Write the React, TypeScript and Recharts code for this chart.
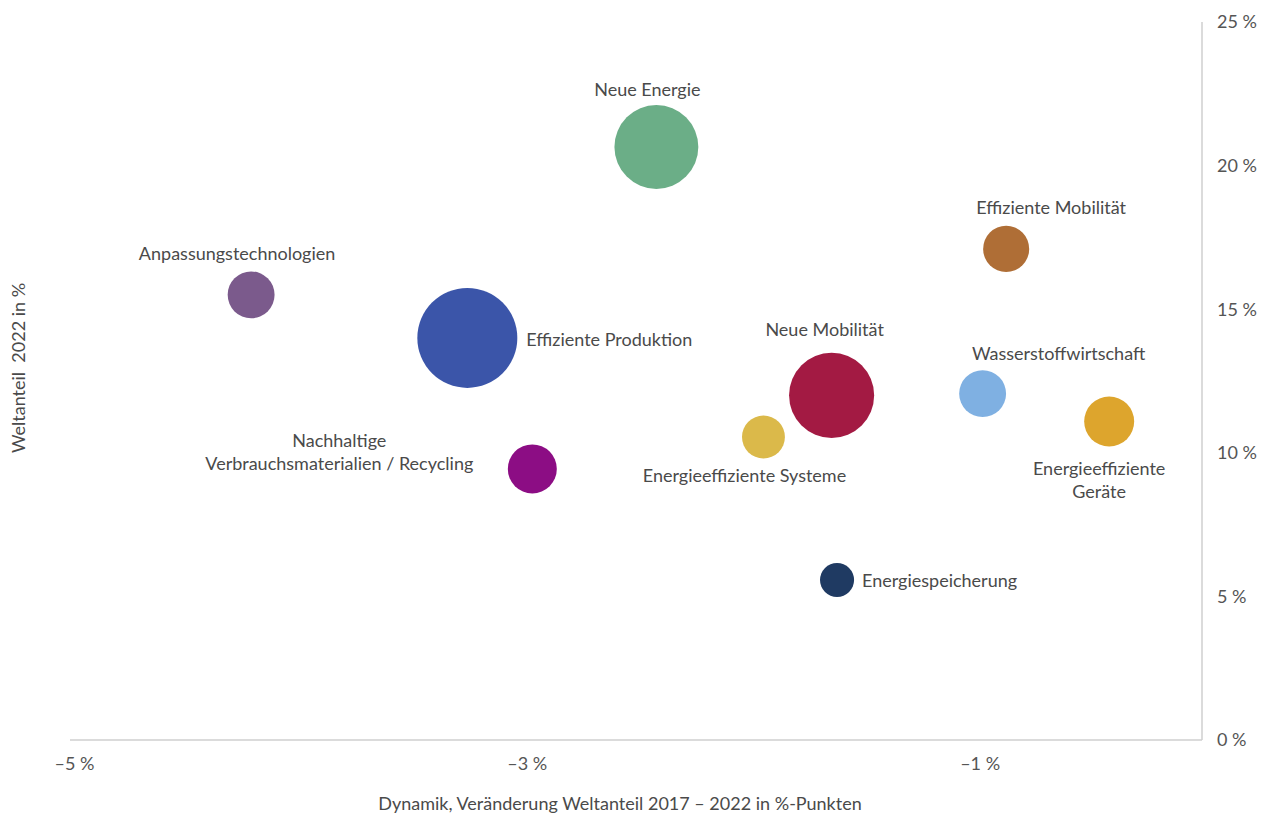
import React from "react";
import { ScatterChart, Scatter, XAxis, YAxis, ZAxis } from "recharts";

// Technologiefelder: Dynamik (x), Weltanteil 2022 (y), Marktvolumen (Blasengröße)
const fields = [
  "Neue Energie",
  "Effiziente Mobilität",
  "Anpassungstechnologien",
  "Effiziente Produktion",
  "Neue Mobilität",
  "Wasserstoffwirtschaft",
  "Energieeffiziente Geräte",
  "Energieeffiziente Systeme",
  "Nachhaltige Verbrauchsmaterialien / Recycling",
  "Energiespeicherung",
];
const dynamics = [-2.43, -0.885, -4.22, -3.265, -1.656, -0.989, -0.43, -1.957, -2.978, -1.632];
const shares = [20.65, 17.1, 15.5, 14.0, 12.0, 12.06, 11.09, 10.55, 9.44, 5.57];
const volumes = [17.6, 5.3, 5.5, 25, 18.1, 5.5, 6.25, 4.6, 6.0, 2.9];

const colors = [
  "#6BAE87",
  "#AF6E36",
  "#7B5A8C",
  "#3B55A9",
  "#A31A43",
  "#7FB0E2",
  "#DDA52D",
  "#DBB94A",
  "#8C0D84",
  "#1F3A62",
];

const xTicks = [-5, -3, -1];
const yTicks = [0, 5, 10, 15, 20, 25];

// label lines and their offset from the bubble centre (px)
const labelLines = [
  ["Neue Energie"],
  ["Effiziente Mobilität"],
  ["Anpassungstechnologien"],
  ["Effiziente Produktion"],
  ["Neue Mobilität"],
  ["Wasserstoffwirtschaft"],
  ["Energieeffiziente", "Geräte"],
  ["Energieeffiziente Systeme"],
  ["Nachhaltige", "Verbrauchsmaterialien / Recycling"],
  ["Energiespeicherung"],
];
const labelPlacement = [
  { dx: -9, dy: -58, anchor: "middle" },
  { dx: 45, dy: -42, anchor: "middle" },
  { dx: -14, dy: -42, anchor: "middle" },
  { dx: 59, dy: 1, anchor: "start" },
  { dx: -7, dy: -66, anchor: "middle" },
  { dx: 76, dy: -41, anchor: "middle" },
  { dx: -10, dy: 47, anchor: "middle" },
  { dx: -19, dy: 38, anchor: "middle" },
  { dx: -193, dy: -29, anchor: "middle" },
  { dx: 25, dy: 0, anchor: "start" },
];

const data = fields.map((name, i) => ({
  i,
  name,
  x: dynamics[i],
  y: shares[i],
  z: volumes[i],
}));

const FONT = "Lato, 'Open Sans', sans-serif";
const TEXT = "#4a4a4a";
const AXIS = "#cfcfcf";
const FS = 18;

const fmtX = (v: number) => `\u2013${Math.abs(v)}\u00a0%`;
const fmtY = (v: number) => `${v}\u00a0%`;

const Bubble = (props: any) => {
  const { cx, cy, size, payload } = props;
  const r = Math.sqrt(Math.max(size, 0) / Math.PI);
  const k = payload.i;
  const p = labelPlacement[k];
  return (
    <g>
      <circle cx={cx} cy={cy} r={r} fill={colors[k]} />
      <text
        x={cx + p.dx}
        y={cy + p.dy}
        textAnchor={p.anchor}
        dominantBaseline="central"
        fontFamily={FONT}
        fontSize={FS}
        fill={TEXT}
      >
        {labelLines[k].map((line, j) => (
          <tspan key={j} x={cx + p.dx} dy={j === 0 ? 0 : 23}>
            {line}
          </tspan>
        ))}
      </text>
    </g>
  );
};

export default function App() {
  return (
    <div style={{ position: "absolute", left: 0, top: 0, background: "#fff" }}>
      <ScatterChart
        width={1266}
        height={814}
        margin={{ top: 22, right: 4, bottom: 0, left: 70 }}
      >
        <XAxis
          type="number"
          dataKey="x"
          domain={[-5.02, -0.02]}
          ticks={xTicks}
          tickFormatter={fmtX}
          axisLine={{ stroke: AXIS, strokeWidth: 1.5 }}
          tickLine={false}
          tickSize={0}
          tickMargin={17}
          height={74}
          tick={{ fontSize: FS, fill: "#555", fontFamily: FONT }}
        />
        <YAxis
          type="number"
          dataKey="y"
          orientation="right"
          domain={[0, 25]}
          ticks={yTicks}
          tickFormatter={fmtY}
          axisLine={{ stroke: AXIS, strokeWidth: 1.5 }}
          tickLine={false}
          tickSize={0}
          tickMargin={15}
          width={60}
          tick={{ fontSize: FS, fill: "#555", fontFamily: FONT }}
        />
        <ZAxis type="number" dataKey="z" domain={[0, 25]} range={[0, Math.PI * 50 * 50]} />
        <Scatter data={data} shape={Bubble} isAnimationActive={false} />
        <text
          x={620}
          y={803}
          textAnchor="middle"
          dominantBaseline="central"
          fontFamily={FONT}
          fontSize={FS}
          fill={TEXT}
        >
          Dynamik, Veränderung Weltanteil 2017 – 2022 in %-Punkten
        </text>
        <text
          x={18}
          y={368}
          transform="rotate(-90 18 368)"
          textAnchor="middle"
          dominantBaseline="central"
          fontFamily={FONT}
          fontSize={FS}
          fill={TEXT}
          style={{ whiteSpace: "pre" }}
        >
          {"Weltanteil  2022 in %"}
        </text>
      </ScatterChart>
    </div>
  );
}
